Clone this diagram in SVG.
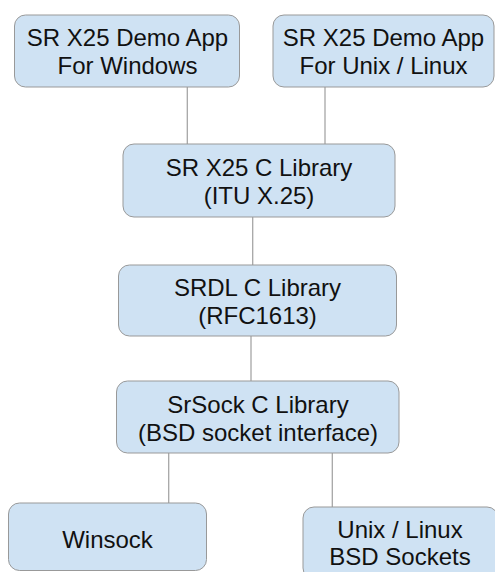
<svg xmlns="http://www.w3.org/2000/svg" width="495" height="572" viewBox="0 0 495 572">
  <style>
    .box { fill: #cfe2f3; stroke: #999999; stroke-width: 1; }
    .lbl { font-family: "Liberation Sans", Arial, sans-serif; font-size: 24px; fill: #111111; text-anchor: middle; }
    .conn { stroke: #a6a6a6; stroke-width: 1.3; fill: none; }
  </style>
  <rect width="495" height="572" fill="#ffffff"/>

  <!-- links between layers -->
  <g id="connectors">
    <line class="conn" x1="187.3" y1="87" x2="187.3" y2="144"/>
    <line class="conn" x1="325" y1="87" x2="325" y2="144"/>
    <line class="conn" x1="252.7" y1="217" x2="252.7" y2="265"/>
    <line class="conn" x1="251" y1="336" x2="251" y2="381"/>
    <line class="conn" x1="168.7" y1="453" x2="168.7" y2="503"/>
    <line class="conn" x1="332.3" y1="453" x2="332.3" y2="507"/>
  </g>

  <g id="demo-windows">
    <rect class="box" x="14.5" y="15" width="225" height="72" rx="11"/>
    <text class="lbl" x="127.5" y="46">SR X25 Demo App</text>
    <text class="lbl" x="127.5" y="74">For Windows</text>
  </g>

  <g id="demo-unix">
    <rect class="box" x="273" y="15" width="221" height="72" rx="11"/>
    <text class="lbl" x="383.5" y="46">SR X25 Demo App</text>
    <text class="lbl" x="383.5" y="74">For Unix / Linux</text>
  </g>

  <g id="x25-lib">
    <rect class="box" x="123" y="144" width="272" height="73" rx="11"/>
    <text class="lbl" x="259" y="175.5">SR X25 C Library</text>
    <text class="lbl" x="259" y="203.5">(ITU X.25)</text>
  </g>

  <g id="srdl-lib">
    <rect class="box" x="118.5" y="265" width="278" height="71" rx="11"/>
    <text class="lbl" x="257.5" y="296">SRDL C Library</text>
    <text class="lbl" x="257.5" y="324">(RFC1613)</text>
  </g>

  <g id="srsock-lib">
    <rect class="box" x="116.5" y="381" width="282.5" height="72" rx="11"/>
    <text class="lbl" x="258" y="412.5">SrSock C Library</text>
    <text class="lbl" x="258" y="440.5">(BSD socket interface)</text>
  </g>

  <g id="winsock">
    <rect class="box" x="8.5" y="503" width="198" height="67.5" rx="11"/>
    <text class="lbl" x="107.5" y="548">Winsock</text>
  </g>

  <g id="bsd-sockets">
    <rect class="box" x="303" y="507" width="195" height="72" rx="11"/>
    <text class="lbl" x="400" y="538">Unix / Linux</text>
    <text class="lbl" x="400" y="565">BSD Sockets</text>
  </g>
</svg>
